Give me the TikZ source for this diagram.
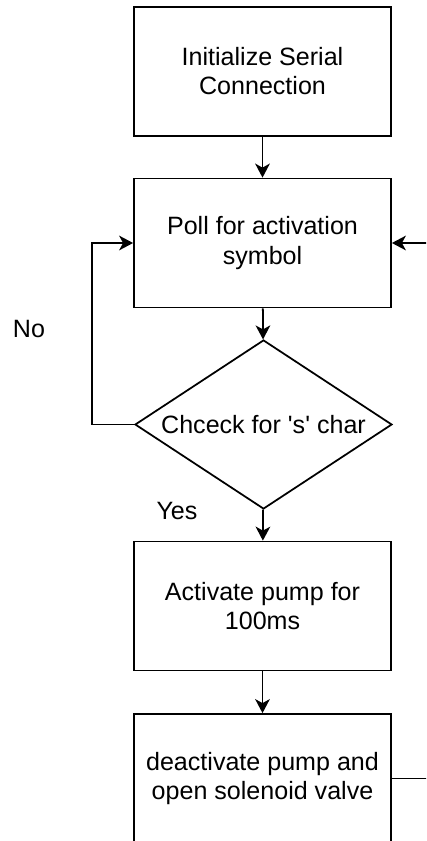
\documentclass[tikz,border=0pt]{standalone}
\usepackage{fontspec}
\setmainfont{Liberation Sans}
\usepackage{tikz}
\usetikzlibrary{arrows.meta, shapes.geometric}
\def\boxW{7.71cm}
\def\boxH{3.87cm}
\def\midX{7.875}
\begin{document}
\begin{tikzpicture}[
    line width=1.5pt,
    >={Stealth[length=4.2mm,width=4.4mm,inset=1.2mm]},
    every node/.style={font=\fontsize{21.4}{24.8}\selectfont, align=center},
    process/.style={rectangle, draw, minimum width=\boxW, minimum height=\boxH, inner sep=0pt},
    decision/.style={diamond, draw, aspect=1.52, minimum width=\boxW, minimum height=5.07cm, inner sep=0pt}
]
\useasboundingbox (0,0) rectangle (12.78,-25.23);
\clip (0,0) rectangle (12.78,-25.23);

\node[process] (init) at (\midX,-2.145) {Initialize Serial\\Connection};
\node[process] (poll) at (\midX,-7.29) {Poll for activation\\symbol};
\node[decision] (check) at (7.905,-12.735) {Chceck for \textquotesingle s\textquotesingle{} char};
\node[process] (pump) at (\midX,-18.18) {Activate pump for\\100ms};
\node[process] (valve) at (\midX,-23.355) {deactivate pump and\\open solenoid valve};

\node (no) at (0.87,-9.87) {No};
\node (yes) at (5.31,-15.33) {Yes};

% loop ends
\coordinate (loopL) at (2.76,0);
\coordinate (loopR) at (13.4,0);

\draw[->] (init) -- (poll);
\draw[->] (poll) -- (check);
\draw[->] (check) -- (pump);
\draw[->] (pump) -- (valve);

% No: back to polling
\draw[->] (check.west) -- (check.west -| loopL) |- (poll.west);

% after the valve, poll again
\draw[->] (valve.east) -- (valve.east -| loopR) |- (poll.east);
\end{tikzpicture}
\end{document}
